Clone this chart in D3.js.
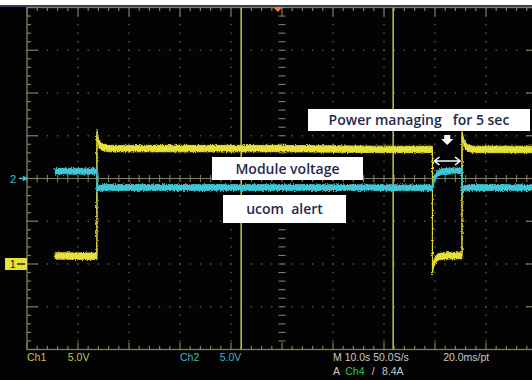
<!DOCTYPE html>
<html>
<head>
<meta charset="utf-8">
<script src="https://cdn.jsdelivr.net/npm/d3@7"></script>
<style>
  html, body { margin: 0; padding: 0; background: #ffffff; }
  svg { display: block; }
  text { white-space: pre; }
</style>
</head>
<body>
<svg id="scope" width="532" height="380"></svg>
<script>
// Acquisition settings
const timePerDiv = 10;          // s/div  (M 10.0s)
const ch1VoltsPerDiv = 5;       // V/div
const ch2VoltsPerDiv = 5;       // V/div
const ch1Position = -2;         // ground marker offset, divisions
const ch2Position = 0;
const triggerTime = -0.8;       // s, top trigger marker

// Ch1 (yellow) – time in s, level in V
const ch1Time  = [-44.5, -36.3, -36.3, -36.0, -35.4, -34.0, 0.0, 20.0, 29.5, 29.5, 29.8, 30.5, 31.5, 35.3, 35.3, 35.6, 36.2, 37.5, 50.0];
const ch1Volts = [0.95, 0.9, 15.4, 14.2, 13.7, 13.5, 13.5, 13.4, 13.4, -0.9, 0.2, 0.8, 0.95, 1.0, 15.4, 14.2, 13.6, 13.4, 13.4];

// Ch2 (cyan) – time in s, level in V
const ch2Time  = [-44.5, -36.3, -36.3, -35.9, -35.0, 0.0, 29.5, 29.5, 29.9, 30.5, 31.3, 35.3, 35.3, 35.8, 37.0, 50.0];
const ch2Volts = [0.85, 0.85, -1.35, -1.15, -1.05, -1.05, -1.1, -1.0, 0.1, 0.6, 0.8, 0.95, -1.35, -1.15, -1.05, -1.08];

// Trace noise half-width, V
const ch1Noise = 0.38;
const ch2Noise = 0.34;

// Cursor positions, s
const cursorTimes = [-8.0, 21.8];

// Readout text
const readoutRow1 = [
  { text: "Ch1", color: "#c9c83a", t: -50 },
  { text: "5.0V", color: "#c9c83a", t: -42 },
  { text: "Ch2", color: "#3db6c8", t: -20 },
  { text: "5.0V", color: "#3db6c8", t: -12.2 },
  { text: "M 10.0s 50.0S/s", color: "#c8c8c8", t: 10.0 },
  { text: "20.0ms/pt", color: "#c8c8c8", t: 31.6 }
];
const readoutRow2 = [
  { text: "A", color: "#c8c8c8", t: 10.0 },
  { text: "Ch4", color: "#2fca44", t: 12.4 },
  { text: "/", color: "#c8c8c8", t: 17.6 },
  { text: "8.4A", color: "#c8c8c8", t: 19.6 }
];

// Annotation labels
const labels = [
  { text: "Power managing   for 5 sec", x: 308, y: 109, w: 222, h: 22 },
  { text: "Module voltage", x: 212, y: 157, w: 151, h: 23 },
  { text: "ucom  alert", x: 223, y: 195, w: 123, h: 28 }
];

const W = 532, H = 380;
const svg = d3.select("#scope");

// screen geometry: 10 x 8 divisions
const x = d3.scaleLinear().domain([-5 * timePerDiv, 5 * timePerDiv]).range([27, 537]);
const yDiv = d3.scaleLinear().domain([-4, 4]).range([349.5, 7.5]);
const y1 = v => yDiv(v / ch1VoltsPerDiv + ch1Position);
const y2 = v => yDiv(v / ch2VoltsPerDiv + ch2Position);

const gridCol = "#7e7e62";
const dotCol = "#5e5e4c";

// background
svg.append("rect").attr("width", W).attr("height", H).attr("fill", "#030303");
svg.append("rect").attr("width", W).attr("height", 5).attr("fill", "#ffffff");
svg.append("rect").attr("y", 5).attr("width", W).attr("height", 2).attr("fill", "#2c3c58");

const defs = svg.append("defs");
defs.append("clipPath").attr("id", "screen")
  .append("rect").attr("x", x(-50)).attr("y", yDiv(4)).attr("width", x(50) - x(-50)).attr("height", yDiv(-4) - yDiv(4));
const jit = defs.append("filter").attr("id", "jit")
  .attr("x", "-2%").attr("y", "-20%").attr("width", "104%").attr("height", "140%");
jit.append("feTurbulence").attr("type", "fractalNoise").attr("baseFrequency", "0.9 0.7")
  .attr("numOctaves", 1).attr("seed", 4).attr("result", "n");
jit.append("feDisplacementMap").attr("in", "SourceGraphic").attr("in2", "n")
  .attr("scale", 4).attr("xChannelSelector", "R").attr("yChannelSelector", "G");
const soft = defs.append("filter").attr("id", "soft");
soft.append("feGaussianBlur").attr("stdDeviation", 0.35);

const grid = svg.append("g").attr("filter", "url(#soft)");

// dotted graticule on interior major divisions
const minorT = d3.range(-50, 50.001, timePerDiv / 5);
const minorD = d3.range(-4, 4.001, 0.2);
d3.range(-4, 5).filter(d => d !== 0).forEach(tDiv => {
  const tx = x(tDiv * timePerDiv);
  grid.selectAll(null).data(minorD).join("rect")
    .attr("x", tx - 0.7).attr("y", d => yDiv(d) - 0.7).attr("width", 1.4).attr("height", 1.4)
    .attr("fill", dotCol);
});
d3.range(-3, 4).filter(d => d !== 0).forEach(dv => {
  const ty = yDiv(dv);
  grid.selectAll(null).data(minorT).join("rect")
    .attr("x", t => x(t) - 0.7).attr("y", ty - 0.7).attr("width", 1.4).attr("height", 1.4)
    .attr("fill", dotCol);
});

// frame
grid.append("rect")
  .attr("x", x(-50)).attr("y", yDiv(4)).attr("width", x(50) - x(-50)).attr("height", yDiv(-4) - yDiv(4))
  .attr("fill", "none").attr("stroke", gridCol).attr("stroke-width", 1.3);

const isMajor = (v, step) => Math.abs(v / step - Math.round(v / step)) < 1e-6;

// frame ticks: top & bottom
minorT.forEach(t => {
  const major = isMajor(t, timePerDiv);
  grid.append("line").attr("x1", x(t)).attr("x2", x(t))
    .attr("y1", yDiv(4)).attr("y2", yDiv(4) + (major ? 9 : 3.5))
    .attr("stroke", gridCol).attr("stroke-width", 1.2);
  grid.append("line").attr("x1", x(t)).attr("x2", x(t))
    .attr("y1", yDiv(-4)).attr("y2", yDiv(-4) - (major ? 7 : 3.5))
    .attr("stroke", gridCol).attr("stroke-width", 1.2);
});
// frame ticks: left & right
minorD.forEach(d => {
  const major = isMajor(d, 1);
  grid.append("line").attr("y1", yDiv(d)).attr("y2", yDiv(d))
    .attr("x1", x(-50)).attr("x2", x(-50) + (major ? 11 : 4))
    .attr("stroke", gridCol).attr("stroke-width", 1.2);
  grid.append("line").attr("y1", yDiv(d)).attr("y2", yDiv(d))
    .attr("x1", x(50)).attr("x2", x(50) - (major ? 11 : 4))
    .attr("stroke", gridCol).attr("stroke-width", 1.2);
});

// centre crosshair: solid horizontal, tick-marked vertical
grid.append("line").attr("x1", x(-50)).attr("x2", x(50)).attr("y1", yDiv(0)).attr("y2", yDiv(0))
  .attr("stroke", gridCol).attr("stroke-width", 1.1);
minorT.forEach(t => {
  grid.append("line").attr("x1", x(t)).attr("x2", x(t)).attr("y1", yDiv(0) - 3.5).attr("y2", yDiv(0) + 3.5)
    .attr("stroke", gridCol).attr("stroke-width", 1.1);
});
minorD.forEach(d => {
  grid.append("line").attr("y1", yDiv(d)).attr("y2", yDiv(d)).attr("x1", x(0) - 3.5).attr("x2", x(0) + 3.5)
    .attr("stroke", gridCol).attr("stroke-width", 1.1);
});

// cursors
svg.append("g").selectAll("line").data(cursorTimes).join("line")
  .attr("x1", d => x(d)).attr("x2", d => x(d)).attr("y1", yDiv(4)).attr("y2", yDiv(-4))
  .attr("stroke", "#b8b83a").attr("stroke-width", 1.6);

// traces
const traces = svg.append("g").attr("clip-path", "url(#screen)");
function drawTrace(times, volts, noise, yf, color, edgeColor) {
  const pts = times.map((t, i) => ({ t, v: volts[i] }));
  const band = d3.area().x(d => x(d.t)).y0(d => yf(d.v - noise)).y1(d => yf(d.v + noise));
  const line = d3.line().x(d => x(d.t)).y(d => yf(d.v));
  traces.append("path").datum(pts).attr("d", line)
    .attr("fill", "none").attr("stroke", edgeColor).attr("stroke-width", 1.1);
  traces.append("path").datum(pts).attr("d", band)
    .attr("fill", color).attr("stroke", color).attr("stroke-width", 0.8)
    .attr("filter", "url(#jit)");
}
drawTrace(ch1Time, ch1Volts, ch1Noise, y1, "#e6e23a", "#b9b63c");
drawTrace(ch2Time, ch2Volts, ch2Noise, y2, "#3fc7d3", "#3aaab4");

// channel ground markers
const g2 = svg.append("g");
g2.append("text").attr("x", 10).attr("y", y2(0) + 4.5).attr("fill", "#3fc0cc")
  .attr("font-family", "Liberation Sans, Arial, sans-serif").attr("font-size", 11).text("2");
g2.append("path").attr("d", `M19,${y2(0)} L25,${y2(0)} M23,${y2(0) - 2} L26.5,${y2(0)} L23,${y2(0) + 2}`)
  .attr("stroke", "#3fc0cc").attr("stroke-width", 1.5).attr("fill", "none");

const g1 = svg.append("g");
g1.append("rect").attr("x", 5).attr("y", y1(0) - 6).attr("width", 22).attr("height", 12).attr("fill", "#e6e23a");
g1.append("text").attr("x", 10).attr("y", y1(0) + 4).attr("fill", "#111")
  .attr("font-family", "Liberation Sans, Arial, sans-serif").attr("font-size", 10).text("1");
g1.append("path").attr("d", `M17,${y1(0)} L25,${y1(0)}`)
  .attr("stroke", "#111").attr("stroke-width", 1.3);

// trigger position marker
svg.append("path")
  .attr("d", `M${x(triggerTime) - 5},7 L${x(triggerTime) + 5},7 L${x(triggerTime)},12 Z`)
  .attr("fill", "#f07a28");

// annotation boxes
const ann = svg.append("g");
labels.forEach(l => {
  ann.append("rect").attr("x", l.x).attr("y", l.y).attr("width", l.w).attr("height", l.h).attr("fill", "#ffffff");
  ann.append("text").attr("x", l.x + l.w / 2).attr("y", l.y + l.h / 2 + 5)
    .attr("text-anchor", "middle").attr("fill", "#1f2a50")
    .attr("font-family", "Open Sans, Lato, sans-serif").attr("font-size", 14).attr("font-weight", 600)
    .text(l.text);
});

// arrows marking the 5 s window between the two edges
const edgeA = x(ch1Time[9]), edgeB = x(ch1Time[13]);
const mid = (edgeA + edgeB) / 2;
ann.append("path")
  .attr("d", `M${mid - 3},135 L${mid + 3},135 L${mid + 3},139 L${mid + 6},139 L${mid},145 L${mid - 6},139 L${mid - 3},139 Z`)
  .attr("fill", "#ffffff");
const ay = 161;
ann.append("path")
  .attr("d", `M${edgeA + 2},${ay} L${edgeB - 2},${ay} M${edgeA + 7},${ay - 4} L${edgeA + 2},${ay} L${edgeA + 7},${ay + 4} M${edgeB - 7},${ay - 4} L${edgeB - 2},${ay} L${edgeB - 7},${ay + 4}`)
  .attr("stroke", "#ffffff").attr("stroke-width", 1.6).attr("fill", "none");

// readout
const ro = svg.append("g").attr("font-family", "Liberation Sans, Arial, sans-serif").attr("font-size", 10.5);
ro.selectAll(".r1").data(readoutRow1).join("text").attr("class", "r1")
  .attr("x", d => x(d.t)).attr("y", 361).attr("fill", d => d.color).text(d => d.text);
ro.selectAll(".r2").data(readoutRow2).join("text").attr("class", "r2")
  .attr("x", d => x(d.t)).attr("y", 375).attr("fill", d => d.color).text(d => d.text);
</script>
</body>
</html>
